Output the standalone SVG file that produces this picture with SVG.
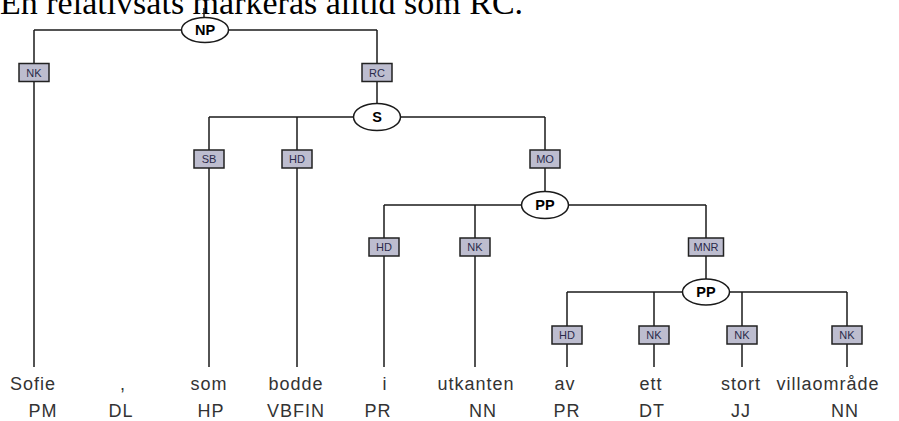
<svg xmlns="http://www.w3.org/2000/svg" width="899" height="421" viewBox="0 0 899 421">
  <style>
    .edge { stroke: #1a1a1a; stroke-width: 1.5; fill: none; }
    .cat ellipse { fill: #ffffff; stroke: #1a1a1a; stroke-width: 1.5; }
    .cat text { font-family: "Liberation Sans", Arial, sans-serif; font-size: 14.5px; font-weight: bold; fill: #000; text-anchor: middle; }
    .fn rect { fill: #bdbdcf; stroke: #222; stroke-width: 1.5; }
    .fn text { font-family: "Liberation Sans", Arial, sans-serif; font-size: 11px; fill: #2a2a4a; text-anchor: middle; }
    .tok text { font-family: "Liberation Sans", Arial, sans-serif; font-size: 18px; letter-spacing: 1px; fill: #333; text-anchor: middle; }
    .caption { font-family: "Liberation Serif", "Times New Roman", serif; font-size: 34px; fill: #000; }
  </style>

  <text class="caption" x="0" y="14">En relativsats markeras alltid som RC.</text>

  <!-- tree edges -->
  <g id="connectors">
    <path class="edge" d="M204,8 V18"/>
    <path class="edge" d="M34,30 H377"/>
    <path class="edge" d="M34,30 V367"/>
    <path class="edge" d="M377,30 V104"/>
    <path class="edge" d="M209,117 H545"/>
    <path class="edge" d="M209,117 V367"/>
    <path class="edge" d="M297,117 V367"/>
    <path class="edge" d="M545,117 V192"/>
    <path class="edge" d="M384,205 H706"/>
    <path class="edge" d="M384,205 V367"/>
    <path class="edge" d="M475,205 V367"/>
    <path class="edge" d="M706,205 V279"/>
    <path class="edge" d="M567,292 H847"/>
    <path class="edge" d="M567,292 V367"/>
    <path class="edge" d="M654,292 V367"/>
    <path class="edge" d="M742,292 V367"/>
    <path class="edge" d="M847,292 V367"/>
  </g>

  <!-- phrase nodes -->
  <g id="np" class="cat"><ellipse cx="205" cy="30" rx="23.5" ry="12.5"/><text x="205" y="35">NP</text></g>
  <g id="s" class="cat"><ellipse cx="377" cy="117" rx="23.5" ry="13.5"/><text x="377" y="122">S</text></g>
  <g id="pp1" class="cat"><ellipse cx="545" cy="205" rx="23.5" ry="13.5"/><text x="545" y="210">PP</text></g>
  <g id="pp2" class="cat"><ellipse cx="706" cy="292" rx="23.5" ry="13"/><text x="706" y="297">PP</text></g>

  <!-- edge function labels -->
  <g id="fn-nk1" class="fn"><rect x="19" y="63.5" width="30" height="18"/><text x="34" y="76.5">NK</text></g>
  <g id="fn-rc" class="fn"><rect x="362" y="63.5" width="30" height="18"/><text x="377" y="76.5">RC</text></g>
  <g id="fn-sb" class="fn"><rect x="194" y="150" width="30" height="18"/><text x="209" y="163">SB</text></g>
  <g id="fn-hd1" class="fn"><rect x="282" y="150" width="30" height="18"/><text x="297" y="163">HD</text></g>
  <g id="fn-mo" class="fn"><rect x="530" y="150" width="30" height="18"/><text x="545" y="163">MO</text></g>
  <g id="fn-hd2" class="fn"><rect x="369" y="238" width="30" height="18"/><text x="384" y="251">HD</text></g>
  <g id="fn-nk2" class="fn"><rect x="460" y="238" width="30" height="18"/><text x="475" y="251">NK</text></g>
  <g id="fn-mnr" class="fn"><rect x="688.5" y="238" width="35" height="18"/><text x="706" y="251">MNR</text></g>
  <g id="fn-hd3" class="fn"><rect x="552" y="326" width="30" height="18"/><text x="567" y="339">HD</text></g>
  <g id="fn-nk3" class="fn"><rect x="639" y="326" width="30" height="18"/><text x="654" y="339">NK</text></g>
  <g id="fn-nk4" class="fn"><rect x="727" y="326" width="30" height="18"/><text x="742" y="339">NK</text></g>
  <g id="fn-nk5" class="fn"><rect x="832" y="326" width="30" height="18"/><text x="847" y="339">NK</text></g>

  <!-- tokens with part-of-speech tags -->
  <g id="tok-sofie" class="tok"><text x="33" y="390">Sofie</text><text x="43" y="417">PM</text></g>
  <g id="tok-comma" class="tok"><text x="123" y="390">,</text><text x="121" y="417">DL</text></g>
  <g id="tok-som" class="tok"><text x="209" y="390">som</text><text x="211" y="417">HP</text></g>
  <g id="tok-bodde" class="tok"><text x="296" y="390">bodde</text><text x="296" y="417">VBFIN</text></g>
  <g id="tok-i" class="tok"><text x="385" y="390">i</text><text x="378" y="417">PR</text></g>
  <g id="tok-utkanten" class="tok"><text x="476" y="390">utkanten</text><text x="483" y="417">NN</text></g>
  <g id="tok-av" class="tok"><text x="565" y="390">av</text><text x="567" y="417">PR</text></g>
  <g id="tok-ett" class="tok"><text x="651" y="390">ett</text><text x="652" y="417">DT</text></g>
  <g id="tok-stort" class="tok"><text x="741" y="390">stort</text><text x="741" y="417">JJ</text></g>
  <g id="tok-villaomrade" class="tok"><text x="828" y="390">villaområde</text><text x="845" y="417">NN</text></g>
</svg>
